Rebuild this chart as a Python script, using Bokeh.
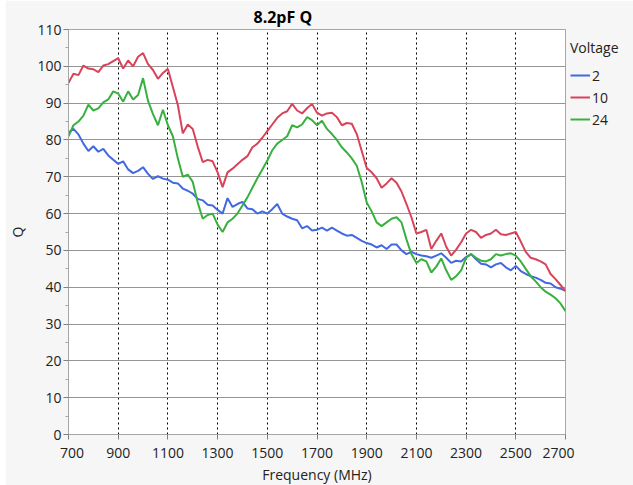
from bokeh.plotting import figure
from bokeh.models import FixedTicker, Legend, LegendItem, ColumnDataSource, Spacer
from bokeh.layouts import column, row
from bokeh.embed import file_html
from bokeh.resources import INLINE

# ---- data ----
freq_mhz = list(range(700, 2701, 20))

q_2v = [82, 83, 81.5, 79, 77, 78.3, 76.8, 77.6, 75.8, 74.6,
        73.5, 74.2, 72, 71, 71.6, 72.6, 70.8, 69.4, 70.2, 69.5,
        69.2, 68.4, 68.2, 66.8, 66.2, 65.4, 64, 63.6, 62.4, 62.2,
        61, 60, 64.2, 61.8, 62.6, 63.2, 61.4, 61.2, 60, 60.6,
        60, 61.2, 62.6, 60, 59.2, 58.6, 58.2, 56, 56.6, 55.4,
        55.6, 56.2, 55.4, 56.2, 55.4, 54.6, 54, 54.2, 53.4, 52.6,
        52, 51.6, 50.8, 51.4, 50.4, 51.6, 51.6, 50, 49, 49.6,
        49, 48.6, 48.4, 48, 48.6, 49.2, 48, 46.6, 47.2, 47,
        48.2, 49, 47.6, 46.4, 46.2, 45.4, 46.2, 46.6, 45.4, 44.6,
        45.8, 44.4, 43.6, 43, 42.6, 42, 41.2, 41, 40, 39.6,
        39]

q_10v = [95.5, 98, 97.6, 100.2, 99.4, 99.2, 98.4, 100.2, 100.6, 101.4,
         102.2, 99.4, 101.6, 100, 102.6, 103.6, 100.6, 99, 96.6, 98.2,
         99.3, 94.4, 89.5, 81.8, 84.2, 83, 78.2, 74, 74.6, 74.2,
         71.2, 67.2, 71.2, 72.2, 73.4, 74.6, 75.6, 78, 79, 80.6,
         82.4, 84.2, 86, 87.2, 87.8, 89.8, 88, 87.2, 88.6, 89.8,
         87.4, 86.6, 87.2, 87.4, 86.2, 84, 84.6, 84.4, 81.6, 77,
         72.4, 71.2, 69.6, 67, 68.2, 69.6, 68.4, 66, 62.6, 59,
         54.6, 55, 55.6, 50.4, 52.6, 54.6, 51, 48.6, 50.2, 52.2,
         54.6, 55.6, 55, 53.4, 54.2, 54.6, 55.6, 54.4, 54.2, 54.6,
         55, 52.4, 49.6, 48, 47.6, 47, 46.2, 43.6, 42.2, 40.6,
         39]

q_24v = [81, 84, 85, 86.6, 89.6, 88, 88.6, 90.2, 91, 93.2,
         92.6, 90.4, 93.2, 91, 92.2, 96.8, 90.6, 87, 84, 88.2,
         84, 81, 75, 70, 70.6, 68.6, 63, 58.6, 59.6, 60,
         57, 55, 57.6, 58.6, 60, 62.2, 64.4, 67, 69.6, 72,
         74.4, 77.2, 79, 80, 81, 84, 83.4, 84.2, 86.2, 85.4,
         84, 85.2, 83, 81.6, 80, 78, 76.6, 75, 73, 68.6,
         63, 60.6, 57.6, 56.6, 57.6, 58.6, 59, 57.6, 53, 49,
         46.6, 47.6, 47, 44, 45.6, 47.8, 44.6, 42, 43, 44.6,
         48, 49, 48, 47.2, 47, 47.6, 49, 48.6, 49, 49.2,
         48.6, 47, 45, 43, 41.6, 40, 38.8, 38, 37, 35.6,
         33.5]

voltages = ["2", "10", "24"]
colors = ["#4169e1", "#d9435a", "#38b03f"]
series = [q_2v, q_10v, q_24v]

x_ticks = list(range(700, 2701, 200))
y_ticks = list(range(0, 111, 10))
y_minor = list(range(5, 111, 10))

FONT = "Open Sans"

p = figure(frame_width=497, frame_height=405, x_range=(700, 2700), y_range=(0, 110),
           output_backend="svg", toolbar_location=None,
           min_border_left=63, min_border_right=62, min_border_top=29,
           min_border_bottom=50)

p.background_fill_color = "white"
p.border_fill_color = "#f6f6f6"
p.outline_line_color = "#a6a6a6"
p.outline_line_width = 1

p.title.text = "8.2pF Q"
p.title.align = "left"
p.title.text_font = FONT
p.title.text_font_size = "16px"
p.title.text_font_style = "bold"
p.title.text_color = "black"
p.title.offset = 185
p.title.standoff = 4

renderers = []
for lbl, col, vals in zip(voltages, colors, series):
    src = ColumnDataSource(dict(x=freq_mhz, y=vals))
    r = p.line("x", "y", source=src, line_color=col, line_width=2)
    renderers.append((lbl, r))

# axes
for ax in (p.xaxis[0], p.yaxis[0]):
    ax.axis_line_color = "#a6a6a6"
    ax.major_tick_line_color = "#7f7f7f"
    ax.minor_tick_line_color = "#a6a6a6"
    ax.major_label_text_font = FONT
    ax.major_label_text_font_size = "14px"
    ax.major_label_text_color = "#222222"
    ax.axis_label_text_font = FONT
    ax.axis_label_text_font_size = "14px"
    ax.axis_label_text_font_style = "normal"
    ax.axis_label_text_color = "#222222"
    ax.major_tick_out = 5
    ax.major_tick_in = 0

p.xaxis.ticker = FixedTicker(ticks=x_ticks)
p.xaxis.minor_tick_line_color = None
p.xaxis.axis_label = "Frequency (MHz)"
p.xaxis.axis_label_standoff = 0
p.xaxis.major_label_standoff = 3
p.xaxis.major_label_overrides = {700: "\u2002700", 2700: "2700\u2003"}

p.yaxis.ticker = FixedTicker(ticks=y_ticks, minor_ticks=y_minor)
p.yaxis.minor_tick_out = 3
p.yaxis.minor_tick_in = 0
p.yaxis.axis_label = "Q"
p.yaxis.axis_label_standoff = 7
p.yaxis.major_label_standoff = 2

# grids
p.xgrid.ticker = FixedTicker(ticks=x_ticks[1:-1])
p.xgrid.grid_line_color = "black"
p.xgrid.grid_line_dash = "2 3"
p.xgrid.grid_line_width = 1
p.ygrid.ticker = FixedTicker(ticks=y_ticks[1:])
p.ygrid.grid_line_color = "#959595"
p.ygrid.grid_line_width = 1.2

legend = Legend(items=[LegendItem(label=l, renderers=[r]) for l, r in renderers],
                location=(5, 305), orientation="vertical",
                title="Voltage", title_text_font=FONT, title_text_font_size="14px",
                title_text_font_style="normal", title_text_color="#222222",
                title_standoff=8,
                label_text_font=FONT, label_text_font_size="14px",
                label_text_color="#222222", label_standoff=2,
                glyph_width=20, glyph_height=20, label_height=20,
                spacing=2, padding=0, margin=0,
                background_fill_alpha=0, border_line_color=None)
p.add_layout(legend, "right")

page = row(Spacer(width=5), p)

open("out.html", "w").write(file_html(page, INLINE))
